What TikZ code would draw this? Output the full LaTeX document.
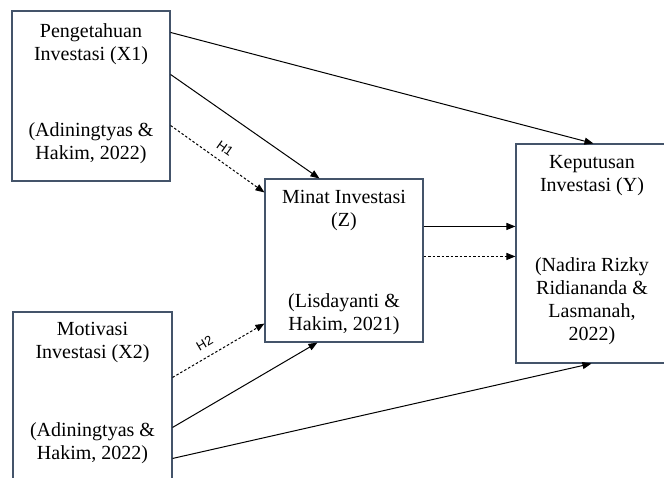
\documentclass[tikz,border=0pt]{standalone}
\usepackage{fontspec}
\setmainfont{Liberation Serif}
\newfontfamily\hfont{Liberation Sans}
\usetikzlibrary{arrows.meta, positioning}
\definecolor{boxline}{HTML}{44546A}

\begin{document}
\begin{tikzpicture}[x=1pt, y=-1pt,
    every node/.style={font=\fontsize{20}{23}\selectfont},
    var/.style={rectangle, draw=boxline, line width=1.1pt, inner sep=0pt},
    txt/.style={inner sep=0pt, align=center},
    arr/.style={-{Triangle[length=9pt, width=7pt]}, line width=1pt},
    hyp/.style={arr, dash pattern=on 2.5pt off 2pt},
    hlab/.style={font=\hfont\fontsize{13}{15}\selectfont, inner sep=0pt, sloped, anchor=south, yshift=8pt}
]
    \clip (0,0) rectangle (664,477);
    % variabel
    \node[var, minimum width=158pt, minimum height=170pt] (pengetahuan) at (91,96) {};
    \node[var, minimum width=158pt, minimum height=163pt] (minat) at (344,260.5) {};
    \node[var, minimum width=159pt, minimum height=178pt] (motivasi) at (92.5,401) {};
    \node[var, minimum width=152pt, minimum height=219pt] (keputusan) at (592,253.5) {};
    % teks
    \node[txt, below=13pt of pengetahuan.north] (x1a) {Pengetahuan\\Investasi (X1)};
    \node[txt, above=18pt of pengetahuan.south] (x1b) {(Adiningtyas \&\\Hakim, 2022)};
    \node[txt, below=12pt of minat.north] (za) {Minat Investasi\\(Z)};
    \node[txt, above=8pt of minat.south] (zb) {(Lisdayanti \&\\Hakim, 2021)};
    \node[txt, below=11pt of motivasi.north] (x2a) {Motivasi\\Investasi (X2)};
    \node[txt, below=59pt of x2a] (x2b) {(Adiningtyas \&\\Hakim, 2022)};
    \node[txt, below=12pt of keputusan.north] (ya) {Keputusan\\Investasi (Y)};
    \node[txt, above=19pt of keputusan.south] (yb) {(Nadira Rizky\\Ridiananda \&\\Lasmanah,\\2022)};
    % hubungan
    \draw[arr] ([yshift=-22pt]pengetahuan.north east) -- ([xshift=78pt]keputusan.north west);
    \draw[arr] ([yshift=-64pt]pengetahuan.north east) -- ([xshift=55pt]minat.north west);
    \draw[hyp] ([yshift=-115pt]pengetahuan.north east) -- ([yshift=-14pt]minat.north west)
        node[hlab, pos=0.5] (h1) {H1};
    \draw[hyp] ([yshift=-66pt]motivasi.north east) -- ([yshift=19pt]minat.south west)
        node[hlab, pos=0.42] (h2) {H2};
    \draw[arr] ([yshift=-116pt]motivasi.north east) -- ([xshift=53pt]minat.south west);
    \draw[arr] ([yshift=-147pt]motivasi.north east) -- ([xshift=76pt]keputusan.south west);
    \draw[arr] ([yshift=-48pt]minat.north east) -- ([yshift=-83pt]keputusan.north west);
    \draw[hyp] ([yshift=-78pt]minat.north east) -- ([yshift=-113pt]keputusan.north west);
\end{tikzpicture}
\end{document}
